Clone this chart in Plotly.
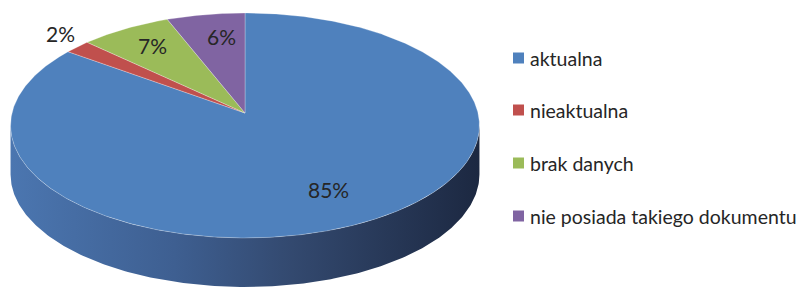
import numpy as np
import plotly.graph_objects as go

# ---- data ----
labels = ["aktualna", "nieaktualna", "brak danych", "nie posiada takiego dokumentu"]
values = [85, 2, 7, 6]
colors = ["#4F81BD", "#C0504D", "#9BBB59", "#8064A2"]

# ---- geometry / style (pixel space) ----
W, H = 805, 288
CX, CY = 245, 113          # projected pie centre
A, B, K = 233.0, 111.1, 0.111  # ellipse radii + perspective factor
DEPTH = 49
LABEL_POS = [(328, 189), (60, 33), (152, 45), (221, 36)]
LEG_X = 518.5
LEG_TX = 530
LEG_Y = [58, 110, 163, 216]
FONT = "Lato, Carlito, Calibri, sans-serif"


def proj(theta_deg):
    t = np.radians(theta_deg)
    X, Y = np.sin(t), np.cos(t)
    s = 1 + K * Y
    return CX + A * X / s, CY - B * Y / s


fig = go.Figure()

total = float(sum(values))
bounds = np.concatenate([[0], np.cumsum(values) / total * 360.0])

# side wall (only the near half is visible)
t0 = 90 + np.degrees(np.arcsin(K))
t1 = 360 - t0
xmin = CX - A / np.sqrt(1 - K * K)
xmax = CX + A / np.sqrt(1 - K * K)
side_scales = [
    [[0, "#4b76b0"], [0.35, "#3e5f91"], [0.6, "#33496f"], [1, "#1c2841"]],
    [[0, "#8e3a38"], [1, "#5a2321"]],
    [[0, "#728a40"], [1, "#4a5a29"]],
    [[0, "#5e4a78"], [1, "#3c2f4d"]],
]
for i, (a0, a1) in enumerate(zip(bounds[:-1], bounds[1:])):
    lo, hi = max(a0, t0), min(a1, t1)
    if hi <= lo:
        continue
    ts = np.linspace(lo, hi, 240)
    xs, ys = proj(ts)
    sx = np.concatenate([xs, xs[::-1]])
    sy = np.concatenate([ys, ys[::-1] + DEPTH])
    fig.add_trace(go.Scatter(
        x=sx, y=sy, mode="lines", fill="toself", line=dict(width=0),
        fillgradient=dict(type="horizontal", colorscale=side_scales[i],
                          start=xmin, stop=xmax),
        hoverinfo="skip", showlegend=False))

# top face slices
for i, (a0, a1) in enumerate(zip(bounds[:-1], bounds[1:])):
    ts = np.linspace(a0, a1, max(4, int((a1 - a0) * 2)))
    xs, ys = proj(ts)
    px = np.concatenate([[CX], xs, [CX]])
    py = np.concatenate([[CY], ys, [CY]])
    fig.add_trace(go.Scatter(
        x=px, y=py, mode="lines", fill="toself", fillcolor=colors[i],
        line=dict(width=0.6, color="rgba(255,255,255,0.45)"),
        name=labels[i], hoverinfo="skip", showlegend=False))

# data labels
for (lx, ly), v in zip(LABEL_POS, values):
    fig.add_annotation(x=lx, y=ly, text=f"{v}%", showarrow=False,
                       font=dict(family=FONT, size=21, color="#262626"),
                       xanchor="center", yanchor="middle")

# legend
fig.add_trace(go.Scatter(
    x=[LEG_X] * len(labels), y=LEG_Y, mode="markers",
    marker=dict(symbol="square", size=11, color=colors, line=dict(width=0)),
    hoverinfo="skip", showlegend=False))
for ly, lab in zip(LEG_Y, labels):
    fig.add_annotation(x=LEG_TX, y=ly, text=lab, showarrow=False,
                       font=dict(family=FONT, size=19.5, color="#262626"),
                       xanchor="left", yanchor="middle", xshift=-2)

fig.update_layout(
    width=W, height=H, margin=dict(l=0, r=0, t=0, b=0),
    paper_bgcolor="white", plot_bgcolor="white",
    xaxis=dict(range=[0, W], visible=False, fixedrange=True),
    yaxis=dict(range=[H, 0], visible=False, fixedrange=True),
    showlegend=False,
)

fig.write_html("out.html", config={"displayModeBar": False},
               post_script="document.body.style.margin='0';document.body.style.overflow='hidden';")
